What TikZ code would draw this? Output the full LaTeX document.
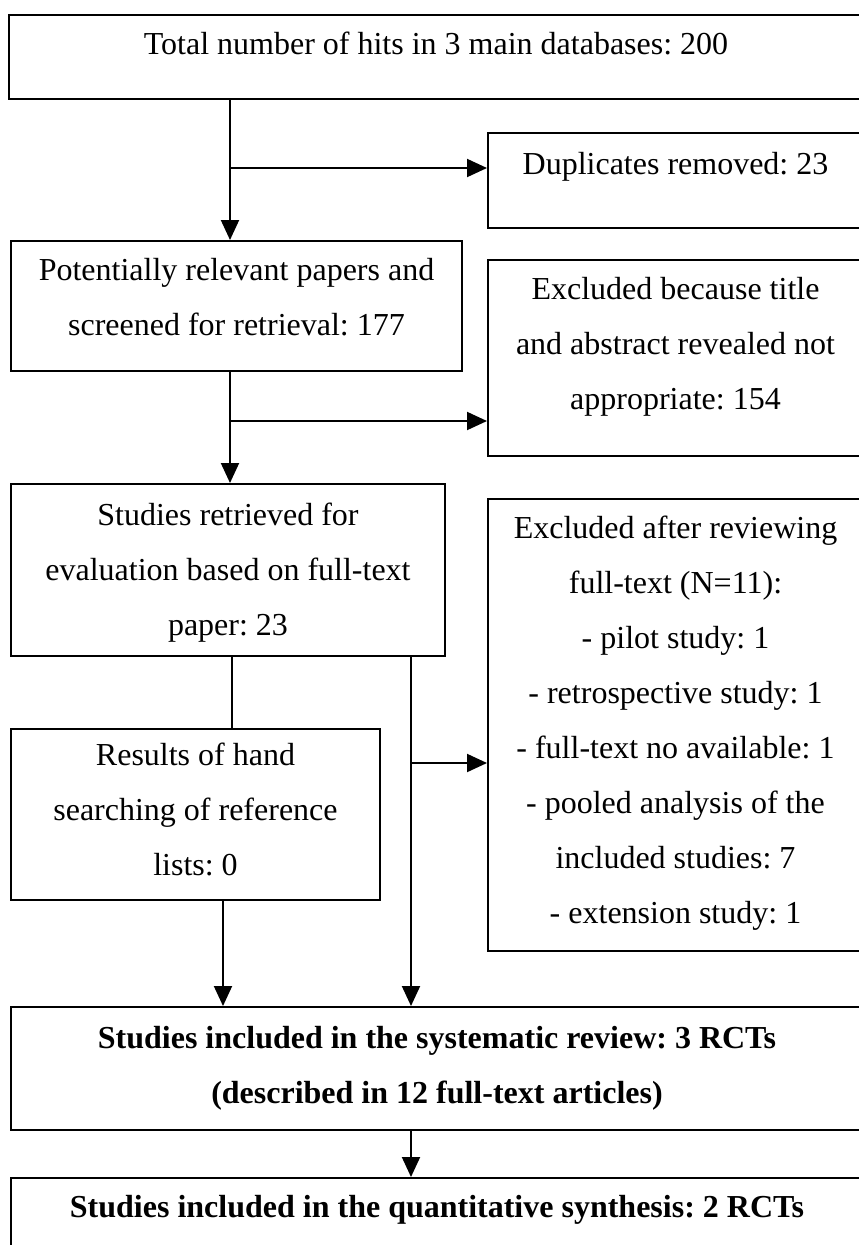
\documentclass[tikz,border=0pt]{standalone}
\usepackage{fontspec}
\setmainfont{Liberation Serif}
\usetikzlibrary{arrows.meta,positioning}
\tikzset{>={Triangle[length=20pt,width=18pt]}}
\frenchspacing

\begin{document}
\begin{tikzpicture}[x=1pt,y=-1pt,
  box/.style={draw,line width=2pt,anchor=north west,inner sep=0pt},
  txt/.style={anchor=north,inner sep=0pt,align=center,font=\fontsize{32}{55}\selectfont},
  btxt/.style={txt,font=\fontsize{32}{55}\selectfont\bfseries},
  flow/.style={line width=2pt}]

\def\xL{10}
\def\xR{487}
\def\wR{375}
\def\capGap{18pt}

\useasboundingbox (0,0) rectangle (859,1245);
\clip (0,0) rectangle (859,1245);

% boxes, left column:
\node[box,minimum width=854pt,minimum height=84pt] (hits) at (8,14) {};
\node[box,minimum width=451pt,minimum height=130pt] (screen) at (\xL,240) {};
\node[box,minimum width=434pt,minimum height=172pt] (retr) at (\xL,483) {};
\node[box,minimum width=369pt,minimum height=171pt] (hand) at (\xL,728) {};
\node[box,minimum width=852pt,minimum height=123pt] (incl) at (\xL,1006) {};
\node[box,minimum width=852pt,minimum height=110pt] (quant) at (\xL,1177) {};
% boxes, right column:
\node[box,minimum width=\wR pt,minimum height=95pt] (dup) at (\xR,132) {};
\node[box,minimum width=\wR pt,minimum height=196pt] (excl1) at (\xR,259) {};
\node[box,minimum width=\wR pt,minimum height=452pt] (excl2) at (\xR,498) {};

% texts:
\node[txt,below=\capGap of hits.north] (hitsText) {Total number of hits in 3 main databases: 200};
\node[txt,below=20pt of dup.north] (dupText) {Duplicates removed: 23};
\node[txt,below=\capGap of screen.north] (screenText) {Potentially relevant papers and\\screened for retrieval: 177};
\node[txt,below=\capGap of excl1.north] (excl1Text) {Excluded because title\\and abstract revealed not\\appropriate: 154};
\node[txt,below=20pt of retr.north] (retrText) {Studies retrieved for\\evaluation based on full-text\\paper: 23};
\node[txt,below=\capGap of excl2.north] (excl2Text) {Excluded after reviewing\\full-text (N=11):\\- pilot study: 1\\- retrospective study: 1\\- full-text no available: 1\\- pooled analysis of the\\included studies: 7\\- extension study: 1};
\node[txt,below=15pt of hand.north] (handText) {Results of hand\\searching of reference\\lists: 0};
\node[btxt,below=20pt of incl.north] (inclText) {Studies included in the systematic review: 3 RCTs\\(described in 12 full-text articles)};
\node[btxt,below=\capGap of quant.north] (quantText) {Studies included in the quantitative synthesis: 2 RCTs};

% connectors:
\coordinate (split1) at (230,168);
\coordinate (split2) at (230,421);
\coordinate (split3) at (411,763);
\coordinate (retrX) at (232,0);
\coordinate (handX) at (223,0);
\draw[flow,->] (hits.south -| split1) -- (screen.north -| split1);
\draw[flow,->] (split1) -- (split1 -| dup.west);
\draw[flow,->] (screen.south -| split2) -- (retr.north -| split2);
\draw[flow,->] (split2) -- (split2 -| excl1.west);
\draw[flow] (retr.south -| retrX) -- (hand.north -| retrX);
\draw[flow,->] (retr.south -| split3) -- (incl.north -| split3);
\draw[flow,->] (split3) -- (split3 -| excl2.west);
\draw[flow,->] (hand.south -| handX) -- (incl.north -| handX);
\draw[flow,->] (incl.south -| split3) -- (quant.north -| split3);

\end{tikzpicture}
\end{document}
